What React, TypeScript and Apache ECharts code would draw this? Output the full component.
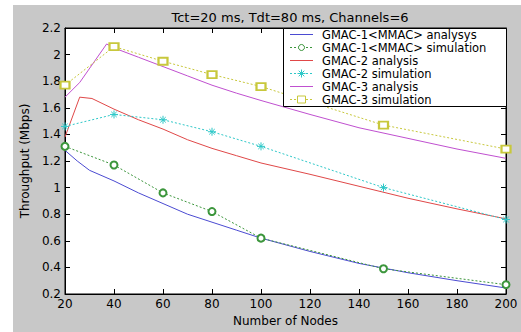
import React, { useEffect, useRef } from "react";
import * as echarts from "echarts";

const titleText = "Tct=20 ms, Tdt=80 ms, Channels=6";
const xName = "Number of Nodes";
const yName = "Throughput (Mbps)";

const seriesNames = [
  "GMAC-1<MMAC> analysys",
  "GMAC-1<MMAC> simulation",
  "GMAC-2 analysis",
  "GMAC-2 simulation",
  "GMAC-3 analysis",
  "GMAC-3 simulation",
];

const nodesSim = [20, 40, 60, 80, 100, 150, 200];
const gmac1Sim = [1.31, 1.17, 0.96, 0.82, 0.62, 0.39, 0.27];
const gmac2Sim = [1.46, 1.55, 1.51, 1.42, 1.31, 1.0, 0.76];
const gmac3Sim = [1.77, 2.06, 1.95, 1.85, 1.76, 1.47, 1.29];

const nodesAna1 = [20, 25, 30, 40, 50, 60, 70, 80, 90, 100, 120, 140, 160, 180, 200];
const gmac1Ana = [1.28, 1.2, 1.13, 1.05, 0.96, 0.88, 0.8, 0.74, 0.68, 0.62, 0.52, 0.43, 0.36, 0.3, 0.245];

const nodesAna2 = [20, 26, 31, 40, 50, 60, 70, 80, 90, 100, 120, 140, 160, 180, 200];
const gmac2Ana = [1.38, 1.68, 1.67, 1.59, 1.51, 1.44, 1.36, 1.295, 1.24, 1.185, 1.1, 1.01, 0.92, 0.84, 0.765];

const nodesAna3 = [20, 26, 37, 40, 50, 60, 70, 80, 90, 100, 120, 140, 160, 180, 200];
const gmac3Ana = [1.68, 1.79, 2.08, 2.05, 1.98, 1.91, 1.84, 1.77, 1.71, 1.655, 1.55, 1.45, 1.37, 1.29, 1.22];

const colors = {
  blue: "#4b4bd2",
  green: "#3c963c",
  red: "#e04848",
  cyan: "#2ec8c8",
  magenta: "#c050d0",
  yellow: "#c8c83c",
};

// legend styles per series: [color, dashed, marker]
const legendStyles: [string, boolean, string][] = [
  [colors.blue, false, "none"],
  [colors.green, true, "circle"],
  [colors.red, false, "none"],
  [colors.cyan, true, "star"],
  [colors.magenta, false, "none"],
  [colors.yellow, true, "square"],
];

const asterisk =
  "path://M5,0 L5,10 M0,5 L10,5 M1.6,1.6 L8.4,8.4 M8.4,1.6 L1.6,8.4";

const pairs = (xs: number[], ys: number[]) => xs.map((x, i) => [x, ys[i]]);

const FONT = "'DejaVu Sans', Arial, sans-serif";

export default function App() {
  const ref = useRef<HTMLDivElement>(null);
  useEffect(() => {
    if (!ref.current) return;
    const chart = echarts.init(ref.current, undefined, { renderer: "svg" });
    const anaLine = (name: string, xs: number[], ys: number[], color: string) => ({
      name,
      type: "line",
      data: pairs(xs, ys),
      showSymbol: false,
      symbol: "none",
      clip: false,
      lineStyle: { color, width: 1, type: "solid" },
      itemStyle: { color },
      xAxisIndex: 0,
      yAxisIndex: 0,
    });
    const simLine = (
      name: string,
      ys: number[],
      color: string,
      symbol: string,
      size: number | number[]
    ) => ({
      name,
      type: "line",
      data: pairs(nodesSim, ys),
      symbol,
      symbolSize: size,
      showAllSymbol: true,
      clip: false,
      lineStyle: { color, width: 1, type: [2, 2] },
      itemStyle: { color, borderColor: color, borderWidth: 1 },
      xAxisIndex: 0,
      yAxisIndex: 0,
    });

    // legend drawn as graphic
    const lgLeft = 283;
    const lgTop = 28;
    const lgRight = 506;
    const rowH = 13;
    const firstRow = lgTop + 6;
    const boxH = 6 + rowH * 5 + 7;
    const legendEls: any[] = [
      {
        type: "rect",
        shape: { x: lgLeft + 0.5, y: lgTop + 0.5, width: lgRight - lgLeft, height: boxH },
        style: { fill: "#fff", stroke: "#000", lineWidth: 1 },
        z: 100,
      },
    ];
    seriesNames.forEach((nm, i) => {
      const [c, dashed, mk] = legendStyles[i];
      const cy = firstRow + i * rowH + 0.5;
      legendEls.push({
        type: "line",
        shape: { x1: 290, y1: cy, x2: 313, y2: cy },
        style: { stroke: c, lineWidth: 1, lineDash: dashed ? [2, 2] : null },
        z: 101,
      });
      if (mk === "circle") {
        legendEls.push({
          type: "circle",
          shape: { cx: 301.5, cy, r: 3 },
          style: { fill: "#fff", stroke: c, lineWidth: 1 },
          z: 102,
        });
      } else if (mk === "square") {
        legendEls.push({
          type: "rect",
          shape: { x: 297.5, y: cy - 3.5, width: 8, height: 7 },
          style: { fill: "#fff", stroke: c, lineWidth: 1 },
          z: 102,
        });
      } else if (mk === "star") {
        const r = 4;
        const d = 2.8;
        [
          [0, -r, 0, r],
          [-r, 0, r, 0],
          [-d, -d, d, d],
          [d, -d, -d, d],
        ].forEach(([a, b, e, f]) =>
          legendEls.push({
            type: "line",
            shape: { x1: 301.5 + a, y1: cy + b, x2: 301.5 + e, y2: cy + f },
            style: { stroke: c, lineWidth: 1 },
            z: 102,
          })
        );
      }
      legendEls.push({
        type: "text",
        x: 322,
        y: cy,
        style: {
          text: nm,
          fill: "#000",
          font: `11.5px ${FONT}`,
          verticalAlign: "middle",
          align: "left",
        },
        z: 102,
      });
    });

    chart.setOption({
      animation: false,
      backgroundColor: "transparent",
      textStyle: { fontFamily: FONT },
      title: {
        text: titleText,
        left: 285,
        top: 6,
        textAlign: "center",
        textStyle: { fontSize: 13, fontWeight: "normal", color: "#000", fontFamily: FONT },
      },
      grid: {
        left: 65,
        right: 15,
        top: 28,
        bottom: 31,
        show: true,
        backgroundColor: "#fff",
        borderColor: "#000",
        borderWidth: 1,
      },
      xAxis: [
        {
          type: "value",
          min: 20,
          max: 200,
          interval: 20,
          name: xName,
          nameLocation: "middle",
          nameGap: 21,
          nameTextStyle: { fontSize: 12, color: "#000", fontFamily: FONT },
          axisLine: { show: true, lineStyle: { color: "#000" } },
          axisTick: { show: true, inside: true, length: 5, lineStyle: { color: "#000" } },
          axisLabel: { fontSize: 12, color: "#000", margin: 4, fontFamily: FONT },
          splitLine: { show: false },
        },
        {
          type: "value",
          position: "top",
          min: 20,
          max: 200,
          interval: 20,
          axisLine: { show: true, lineStyle: { color: "#000" } },
          axisTick: { show: true, inside: true, length: 5, lineStyle: { color: "#000" } },
          axisLabel: { show: false },
          splitLine: { show: false },
        },
      ],
      yAxis: [
        {
          type: "value",
          min: 0.2,
          max: 2.2,
          interval: 0.2,
          name: yName,
          nameLocation: "middle",
          nameGap: 26,
          nameTextStyle: { fontSize: 12, color: "#000", fontFamily: FONT },
          axisLine: { show: true, lineStyle: { color: "#000" } },
          axisTick: { show: true, inside: true, length: 5, lineStyle: { color: "#000" } },
          axisLabel: {
            fontSize: 12,
            color: "#000",
            margin: 4,
            fontFamily: FONT,
            formatter: (v: number) => String(+v.toFixed(1)),
          },
          splitLine: { show: false },
        },
        {
          type: "value",
          position: "right",
          min: 0.2,
          max: 2.2,
          interval: 0.2,
          axisLine: { show: true, lineStyle: { color: "#000" } },
          axisTick: { show: true, inside: true, length: 5, lineStyle: { color: "#000" } },
          axisLabel: { show: false },
          splitLine: { show: false },
        },
      ],
      graphic: legendEls,
      series: [
        anaLine(seriesNames[0], nodesAna1, gmac1Ana, colors.blue),
        simLine(seriesNames[1], gmac1Sim, colors.green, "emptyCircle", 7),
        anaLine(seriesNames[2], nodesAna2, gmac2Ana, colors.red),
        simLine(seriesNames[3], gmac2Sim, colors.cyan, asterisk, 8),
        anaLine(seriesNames[4], nodesAna3, gmac3Ana, colors.magenta),
        simLine(seriesNames[5], gmac3Sim, colors.yellow, "emptyRect", [9, 7]),
      ],
    });
    return () => chart.dispose();
  }, []);

  return (
    <div style={{ position: "absolute", left: 0, top: 0, width: 521, height: 332, background: "#fff" }}>
      <div style={{ position: "absolute", left: 13, top: 5, width: 508, height: 327, background: "#c8c8c8" }} />
      <div ref={ref} style={{ position: "absolute", left: 0, top: 0, width: 521, height: 332 }} />
    </div>
  );
}
